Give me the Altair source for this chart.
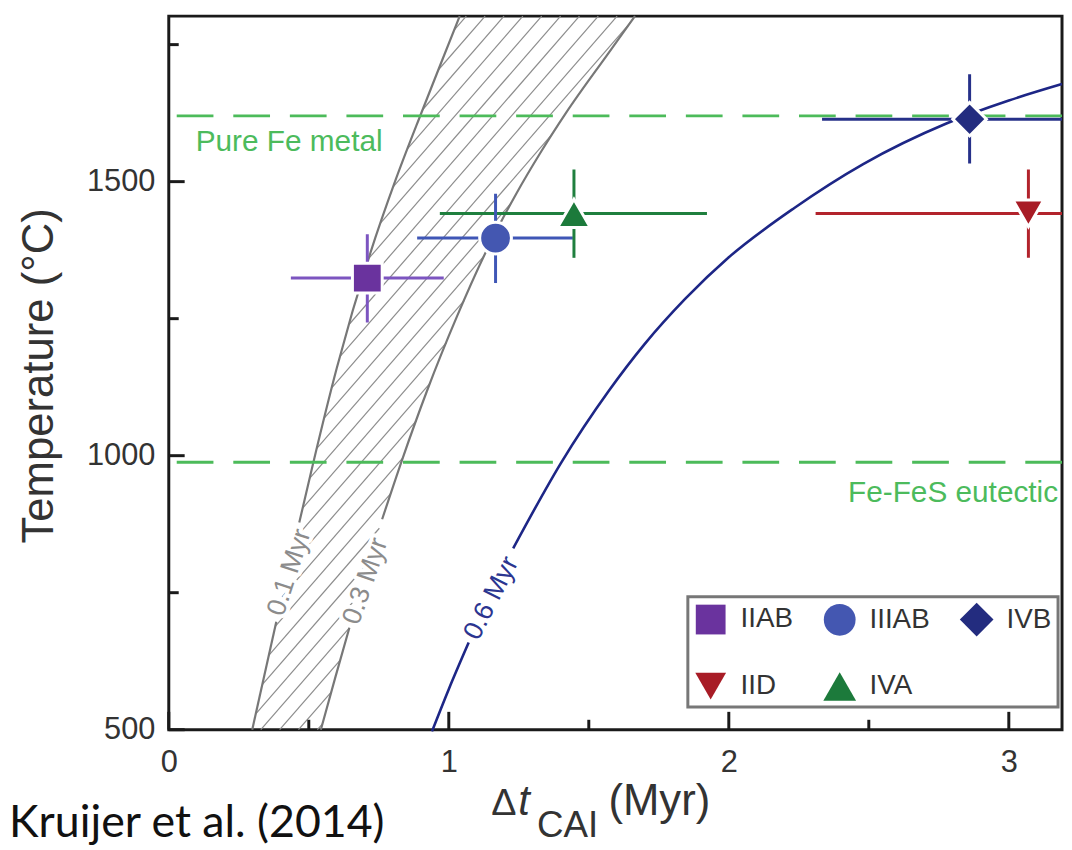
import altair as alt
import pandas as pd
import numpy as np

W, H = 900, 719
XMAX = 3.19
TMIN, TMAX = 500, 1802
FONT = "Liberation Sans"

# ---- isotherm curves (x = Delta t_CAI in Myr, t = temperature in C) ----
c01_x = [0.298, 0.384, 0.466, 0.515, 0.600, 0.720, 0.810, 0.904, 0.972, 1.039]
c01_t = [500, 697, 878, 985, 1160, 1370, 1503, 1628, 1716, 1802]
c01_gap = (697, 878)
c03_x = [0.543, 0.595, 0.645, 0.700, 0.762, 0.833, 0.922, 1.030, 1.145, 1.241, 1.330, 1.418, 1.571, 1.665]
c03_t = [500, 596, 686, 782, 884, 992, 1118, 1255, 1385, 1478, 1555, 1625, 1735, 1802]
c03_gap = (686, 884)
c06_x = [0.940, 1.000, 1.071, 1.150, 1.230, 1.401, 1.571, 1.700, 1.844, 2.000, 2.234, 2.480, 2.777, 3.000, 3.190]
c06_t = [497, 574, 659, 748, 831, 987, 1118, 1204, 1286, 1362, 1452, 1532, 1606, 1648, 1678]
c06_gap = (659, 831)

# curve labels
clab_text = ["0.1 Myr", "0.3 Myr", "0.6 Myr"]
clab_x = [0.431, 0.703, 1.152]
clab_t = [787, 771, 740]
clab_angle = [288, 289, 297]
clab_color = ["#8c8c8c", "#8c8c8c", "#2b3590"]

# reference temperatures
ref_t = [1620, 988]
ref_text = ["Pure Fe metal", "Fe-FeS eutectic"]
ref_text_x = [0.096, 3.176]
ref_text_t = [1556, 915]
ref_align = ["left", "right"]

# ---- iron meteorite groups ----
groups = ["IIAB", "IIIAB", "IVB", "IID", "IVA"]
shapes = ["square", "circle", "diamond", "triangle-down", "triangle-up"]
marker_colors = ["#6a339e", "#4457b1", "#232c7f", "#a81c26", "#1c7a3b"]
bar_colors = ["#7c55c0", "#3f56b6", "#263089", "#b2232c", "#1f7f3e"]
sizes = [900, 1000, 1600, 1150, 1150]
age = [0.709, 1.167, 2.860, 3.070, 1.447]
age_lo = [0.436, 0.887, 2.333, 2.310, 0.968]
age_hi = [0.982, 1.443, 3.600, 3.600, 1.922]
temp = [1324, 1397, 1614, 1442, 1442]
temp_lo = [1243, 1315, 1533, 1361, 1361]
temp_hi = [1404, 1478, 1696, 1522, 1522]
# legend entries are filled column by column: gives rows IIAB IIIAB IVB / IID IVA
legend_order = ["IIAB", "IID", "IIIAB", "IVA", "IVB"]

# axis ticks
x_major = [0, 1, 2, 3]
x_minor = [0.5, 1.5, 2.5]
y_major = [500, 1000, 1500]
y_minor = [750, 1250, 1750]

# ---- scales / axes ----
xs = alt.Scale(domain=[0, XMAX], nice=False, zero=False)
ys = alt.Scale(domain=[TMIN, TMAX], nice=False, zero=False)
xaxis = alt.Axis(values=x_major, ticks=False, tickSize=0, domain=False, grid=False,
                 labelFont=FONT, labelFontSize=31, labelColor="#333", labelPadding=18,
                 labelFlush=False, labelOverlap=False, title=None, format="d")
yaxis = alt.Axis(values=y_major, ticks=False, tickSize=0, domain=False, grid=False,
                 labelFont=FONT, labelFontSize=31, labelColor="#333", labelPadding=14,
                 labelFlush=False, labelOverlap=False, format="d",
                 title="Temperature (°C)", titleFont=FONT, titleFontSize=44,
                 titleFontWeight="normal", titleColor="#333", titleX=-108, titleY=362,
                 titleAngle=270, titleBaseline="bottom", titleAlign="center")


def X(f):
    return alt.X(f, type="quantitative", scale=xs, axis=xaxis)


def Y(f):
    return alt.Y(f, type="quantitative", scale=ys, axis=yaxis)


# ---- curve data with label gaps ----
def curve_df(xv, tv, gap, name):
    rows = []
    for i, (a, b) in enumerate(zip(xv, tv)):
        if b <= gap[0]:
            rows.append({"x": a, "t": b, "seg": name + "a", "o": i})
        elif b >= gap[1]:
            rows.append({"x": a, "t": b, "seg": name + "b", "o": i})
    return pd.DataFrame(rows)


gray_df = pd.concat([curve_df(c01_x, c01_t, c01_gap, "c01"), curve_df(c03_x, c03_t, c03_gap, "c03")])
blue_df = curve_df(c06_x, c06_t, c06_gap, "c06")

# ---- hatching between the 0.1 and 0.3 Myr isotherms ----
sx = W / XMAX
sy = H / (TMAX - TMIN)
k = np.tan(np.radians(49))
Tg = np.linspace(TMIN, TMAX, 4000)
vg = (Tg - TMIN) * sy
gL = vg - k * np.interp(Tg, c01_t, c01_x) * sx
gR = vg - k * np.interp(Tg, c03_t, c03_x) * sx
hatch = []
for c in np.arange(gR[0] + 4, gL[-1], k * 19):
    vL = 0.0 if c < gL[0] else float(np.interp(c, gL, vg))
    vR = float(vg[-1]) if c > gR[-1] else float(np.interp(c, gR, vg))
    if vR > vL:
        hatch.append({"x": (vL - c) / k / sx, "t": vL / sy + TMIN,
                      "x2": (vR - c) / k / sx, "t2": vR / sy + TMIN})
hatch_df = pd.DataFrame(hatch)

hatch_layer = alt.Chart(hatch_df).mark_rule(color="#8c8c8c", strokeWidth=1.2).encode(
    x=X("x"), y=Y("t"), x2="x2", y2="t2")

gray_layer = alt.Chart(gray_df).mark_line(color="#777777", strokeWidth=2.2, interpolate="monotone").encode(
    x=X("x"), y=Y("t"), detail="seg:N", order="o:Q")
blue_layer = alt.Chart(blue_df).mark_line(color="#1d2686", strokeWidth=2.6, interpolate="monotone").encode(
    x=X("x"), y=Y("t"), detail="seg:N", order="o:Q")

ref_df = pd.DataFrame({"t": ref_t})
dashed = alt.Chart(ref_df).mark_rule(color="#4cbb5a", strokeWidth=3, strokeDash=[37, 20]).encode(y=Y("t"))

reftxt_layers = []
for txt, xv, tv, al in zip(ref_text, ref_text_x, ref_text_t, ref_align):
    reftxt_layers.append(
        alt.Chart(pd.DataFrame({"x": [xv], "t": [tv], "s": [txt]})).mark_text(
            font=FONT, fontSize=30, color="#4cbb5c", align=al, baseline="alphabetic").encode(
            x=X("x"), y=Y("t"), text="s:N"))

clab_layers = []
for txt, xv, tv, ang, col in zip(clab_text, clab_x, clab_t, clab_angle, clab_color):
    d = pd.DataFrame({"x": [xv], "t": [tv], "s": [txt]})
    clab_layers.append(alt.Chart(d).mark_text(
        font=FONT, fontSize=27, color="white", stroke="white", strokeWidth=8, strokeJoin="round",
        angle=ang, align="center", baseline="middle").encode(x=X("x"), y=Y("t"), text="s:N"))
    clab_layers.append(alt.Chart(d).mark_text(
        font=FONT, fontSize=27, color=col, angle=ang, align="center", baseline="middle").encode(
        x=X("x"), y=Y("t"), text="s:N"))

err_df = pd.DataFrame({"group": groups, "age": age, "age_lo": age_lo, "age_hi": age_hi,
                       "temp": temp, "temp_lo": temp_lo, "temp_hi": temp_hi, "bc": bar_colors})
hbar = alt.Chart(err_df).mark_rule(strokeWidth=3, clip=True).encode(
    x=X("age_lo"), x2="age_hi", y=Y("temp"), color=alt.Color("bc:N", scale=None))
vbar = alt.Chart(err_df).mark_rule(strokeWidth=3, clip=True).encode(
    x=X("age"), y=Y("temp_lo"), y2="temp_hi", color=alt.Color("bc:N", scale=None))

idx = [groups.index(g) for g in legend_order]
legend = alt.Legend(title=None, orient="none", legendX=523, legendY=585, columns=3,
                    labelFont=FONT, labelFontSize=28, labelColor="#333", strokeColor="#777777",
                    padding=6, rowPadding=34, columnPadding=30, labelOffset=13,
                    symbolStrokeWidth=0, symbolOpacity=1)
pts_df = pd.DataFrame({"group": groups, "age": age, "temp": temp})
points = alt.Chart(pts_df).mark_point(filled=True, opacity=1, stroke="white", strokeWidth=3).encode(
    x=X("age"), y=Y("temp"),
    color=alt.Color("group:N", scale=alt.Scale(domain=legend_order, range=[marker_colors[i] for i in idx]),
                    legend=legend),
    shape=alt.Shape("group:N", scale=alt.Scale(domain=legend_order, range=[shapes[i] for i in idx]),
                    legend=legend),
    size=alt.Size("group:N", scale=alt.Scale(domain=legend_order, range=[sizes[i] for i in idx]),
                  legend=legend))

TC = "#1a1a1a"
xt_major = alt.Chart(pd.DataFrame({"v": x_major})).mark_rule(color=TC, strokeWidth=3).encode(
    x=X("v"), y=alt.value(H), y2=alt.value(H - 18))
xt_minor = alt.Chart(pd.DataFrame({"v": x_minor})).mark_rule(color=TC, strokeWidth=3).encode(
    x=X("v"), y=alt.value(H), y2=alt.value(H - 10))
yt_major = alt.Chart(pd.DataFrame({"v": y_major})).mark_rule(color=TC, strokeWidth=3).encode(
    y=Y("v"), x=alt.value(0), x2=alt.value(16))
yt_minor = alt.Chart(pd.DataFrame({"v": y_minor})).mark_rule(color=TC, strokeWidth=3).encode(
    y=Y("v"), x=alt.value(0), x2=alt.value(10))

# x-axis title "Δt_CAI (Myr)" built from pieces
xt_parts = [
    ("Δ", 325, 805, 38, "normal"),
    ("t", 352, 805, 42, "italic"),
    ("CAI", 371, 827, 37, "normal"),
    ("(Myr)", 443, 805, 44, "normal"),
]
title_layers = []
for s, px, py, fs, st in xt_parts:
    title_layers.append(alt.Chart(pd.DataFrame({"s": [s]})).mark_text(
        font=FONT, fontSize=fs, fontStyle=st, color="#333", align="left", baseline="alphabetic").encode(
        x=alt.value(px), y=alt.value(py), text="s:N"))

cite = alt.Chart(pd.DataFrame({"s": ["Kruijer et al. (2014)"]})).mark_text(
    font="Lato", fontSize=45, color="#111", align="left", baseline="alphabetic").encode(
    x=alt.value(-161), y=alt.value(827), text="s:N")

chart = alt.layer(
    hatch_layer, gray_layer, blue_layer, dashed, *clab_layers, *reftxt_layers,
    hbar, vbar, points, xt_major, xt_minor, yt_major, yt_minor, *title_layers, cite
).properties(
    width=W, height=H,
    autosize=alt.AutoSizeParams(type="none"),
    padding={"left": 162, "top": 5, "right": 2, "bottom": 116},
).configure_view(stroke="#1a1a1a", strokeWidth=3).configure_legend(strokeWidth=3)

chart.save("out.html", embed_options={"renderer": "svg", "actions": False})
